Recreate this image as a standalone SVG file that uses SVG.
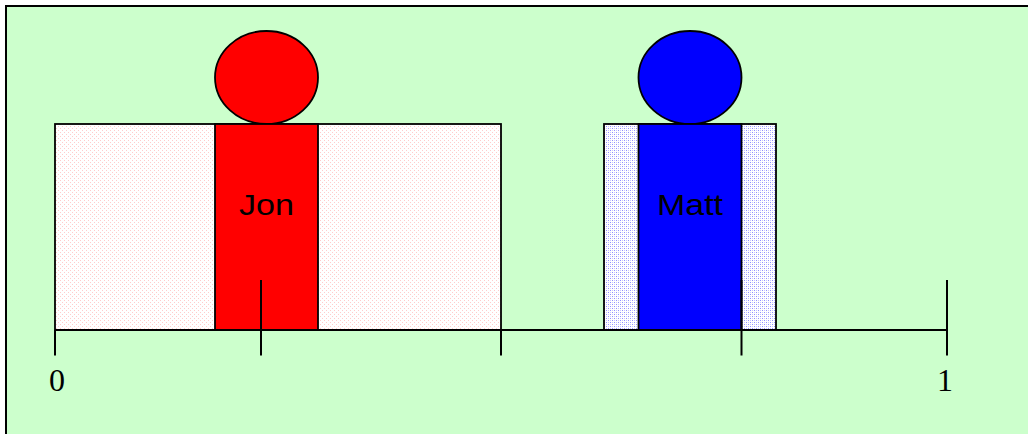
<svg xmlns="http://www.w3.org/2000/svg" width="1028" height="434" viewBox="0 0 1028 434">
<style>
.o{stroke:#000;stroke-width:1.8}
.l{stroke:#000;stroke-width:2;fill:none}
.s{font-family:"Liberation Sans",Arial,sans-serif;font-size:30px;fill:#000;text-anchor:middle}
.n{font-family:"Liberation Serif","Times New Roman",serif;font-size:32px;fill:#000;text-anchor:middle}
</style>
<defs>
<pattern id="pr" width="4" height="4" patternUnits="userSpaceOnUse"><rect width="4" height="4" fill="#fff"/><rect width="1" height="1" fill="#ffcccc"/><rect x="2" y="2" width="1" height="1" fill="#ffcccc"/></pattern>
<pattern id="pb" width="4" height="4" patternUnits="userSpaceOnUse"><rect width="4" height="4" fill="#fff"/><rect width="1" height="1" fill="#9090ff"/><rect x="2" y="2" width="1" height="1" fill="#9090ff"/><rect x="2" width="1" height="1" fill="#c8c8ff"/><rect y="2" width="1" height="1" fill="#c8c8ff"/></pattern>
</defs>
<rect id="bg" x="6" y="6" width="1030" height="440" fill="#ccffcc" stroke="#000" stroke-width="2"/>
<g id="jon-range"><rect class="o" x="55" y="124" width="446" height="206" fill="url(#pr)"/></g>
<g id="matt-range"><rect class="o" x="604" y="124" width="172" height="206" fill="url(#pb)"/></g>
<g id="jon"><ellipse class="o" cx="266.500" cy="77.500" rx="51.500" ry="46.500" fill="#f00"/><rect class="o" x="215" y="124" width="103" height="206" fill="#f00"/><text class="s" x="266.500" y="215" textLength="55" lengthAdjust="spacingAndGlyphs">Jon</text></g>
<g id="matt"><ellipse class="o" cx="690" cy="77.500" rx="51.500" ry="46.500" fill="#00f"/><rect class="o" x="638.500" y="124" width="103" height="206" fill="#00f"/><text class="s" x="690" y="215" textLength="66" lengthAdjust="spacingAndGlyphs">Matt</text></g>
<g id="connectors">
<path class="l" d="M55 330H947M55 330V355.500M261 280V355.500M501 330V355.500M741.500 280V355.500M947 280V355.500"/>
</g>
<text class="n" x="57" y="390.500">0</text>
<text class="n" x="945" y="390.500">1</text>
</svg>
